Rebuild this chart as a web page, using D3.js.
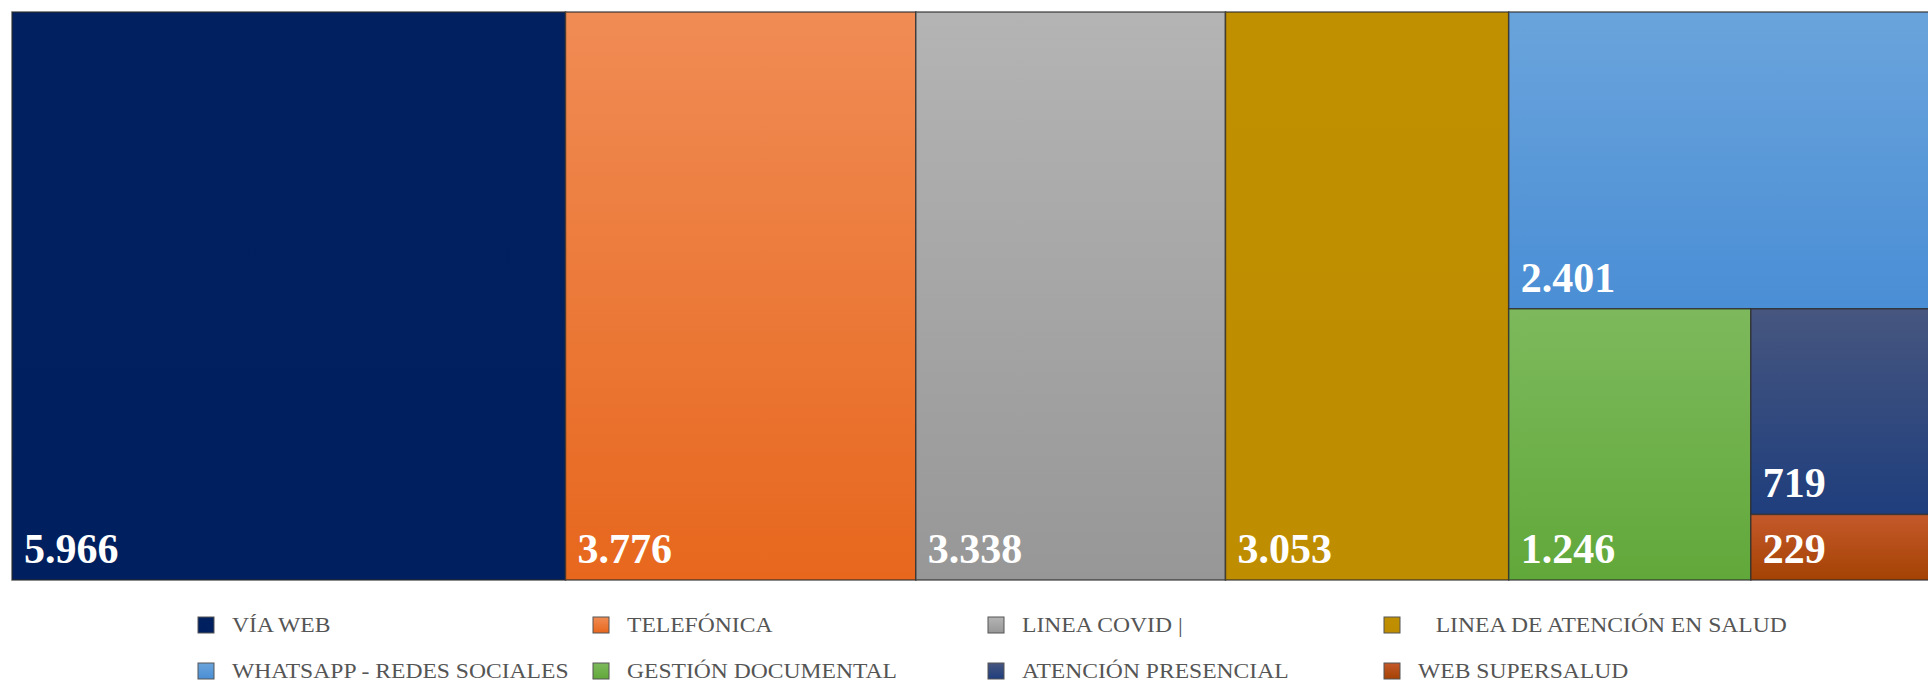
<!DOCTYPE html>
<html>
<head>
<meta charset="utf-8">
<script src="https://cdn.jsdelivr.net/npm/d3@7"></script>
<style>
  body { margin: 0; background: #fff; }
  svg { display: block; overflow: hidden; }
</style>
</head>
<body>
<div id="chart"></div>
<script>
// chart data
var categories = ["VÍA WEB", "TELEFÓNICA", "LINEA COVID |", "LINEA DE ATENCIÓN EN SALUD",
  "WHATSAPP - REDES SOCIALES", "GESTIÓN DOCUMENTAL", "ATENCIÓN PRESENCIAL", "WEB SUPERSALUD"];
var values = [5966, 3776, 3338, 3053, 2401, 1246, 719, 229];
var legendLabels = ["VÍA WEB", "TELEFÓNICA", "LINEA COVID |", "\u00a0\u00a0\u00a0LINEA DE ATENCIÓN EN SALUD",
  "WHATSAPP - REDES SOCIALES", "GESTIÓN DOCUMENTAL", "ATENCIÓN PRESENCIAL", "WEB SUPERSALUD"];

var topColors = ["#002060", "#f08c55", "#b4b4b4", "#c09000", "#6aa4dc", "#7db95c", "#46567f", "#c4592a"];
var bottomColors = ["#001f5e", "#e7671d", "#979797", "#be8d00", "#4a8ed5", "#61a83a", "#1f3e7d", "#a44204"];

(function autoexecute() {
  var width = 1928, height = 684;
  var margin = {top: 12, left: 12};
  var mapW = 1923, mapH = 568;

  var svg = d3.select("#chart")
    .append("svg")
      .attr("width", width)
      .attr("height", height);

  var defs = svg.append("defs");
  categories.forEach(function(c, i) {
    var g = defs.append("linearGradient")
      .attr("id", "grad" + i)
      .attr("x1", 0).attr("y1", 0).attr("x2", 0).attr("y2", 1);
    g.append("stop").attr("offset", "0%").attr("stop-color", topColors[i]);
    g.append("stop").attr("offset", "100%").attr("stop-color", bottomColors[i]);
  });

  // first four are side by side, the rest nest into the right column
  var leaves = categories.map(function(c, i) { return {name: c, value: values[i], idx: i}; });
  var tail = {children: [leaves[6], leaves[7]]};
  tail = {children: [leaves[5], tail]};
  tail = {children: [leaves[4], tail]};
  var data = {children: leaves.slice(0, 4).concat([tail])};

  var root = d3.hierarchy(data).sum(function(d) { return d.children ? 0 : d.value; });
  d3.treemap()
    .tile(d3.treemapSliceDice)
    .size([mapW, mapH])
    (root);

  var fmt = d3.formatLocale({decimal: ",", thousands: ".", grouping: [3], currency: ["$", ""]}).format(",");

  var map = svg.append("g")
    .attr("transform", "translate(" + margin.left + "," + margin.top + ")");

  var cell = map.selectAll("g.cell")
    .data(root.leaves())
    .join("g")
      .attr("class", "cell");

  cell.append("rect")
    .attr("x", function(d) { return d.x0; })
    .attr("y", function(d) { return d.y0; })
    .attr("width", function(d) { return d.x1 - d.x0; })
    .attr("height", function(d) { return d.y1 - d.y0; })
    .attr("fill", function(d) { return "url(#grad" + d.data.idx + ")"; })
    .attr("stroke", "rgba(45,45,45,0.75)")
    .attr("stroke-width", 1.5);

  cell.append("text")
    .attr("x", function(d) { return d.x0 + 12; })
    .attr("y", function(d) { return d.y1 - 17; })
    .attr("fill", "#fff")
    .style("font-family", "'Liberation Serif', 'Times New Roman', serif")
    .style("font-weight", "bold")
    .style("font-size", "42px")
    .text(function(d) { return fmt(d.data.value); });

  // legend
  var colX = [198, 593, 988, 1384];
  var rowY = [625, 671];
  var legend = svg.append("g")
    .selectAll("g")
    .data(categories)
    .join("g")
      .attr("transform", function(d, i) {
        return "translate(" + colX[i % 4] + "," + rowY[Math.floor(i / 4)] + ")";
      });

  legend.append("rect")
    .attr("x", 0)
    .attr("y", -8)
    .attr("width", 16)
    .attr("height", 16)
    .attr("fill", function(d, i) { return "url(#grad" + i + ")"; })
    .attr("stroke", "#555")
    .attr("stroke-width", 1);

  // legend text in the picture is stretched sideways
  legend.append("text")
    .attr("transform", "translate(34,6.5) scale(1.18,1)")
    .attr("fill", "#555")
    .style("font-family", "'Liberation Serif', 'Times New Roman', serif")
    .style("font-size", "20px")
    .style("white-space", "pre")
    .text(function(d, i) { return legendLabels[i]; });
})();
</script>
</body>
</html>
